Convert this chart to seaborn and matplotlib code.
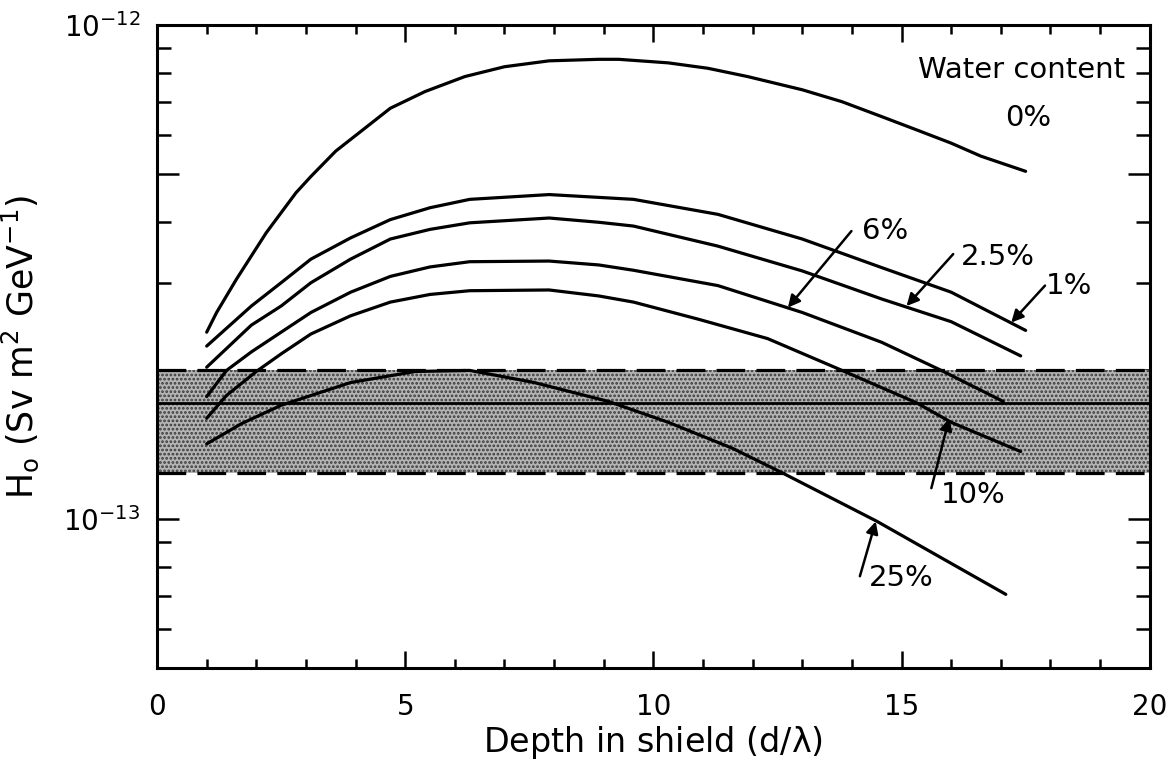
import numpy as np
import pandas as pd
import matplotlib
matplotlib.use('Agg')
import matplotlib.pyplot as plt
from matplotlib.ticker import FixedLocator, NullFormatter
import seaborn as sns

sns.set_theme(style="ticks")
plt.rcParams['font.family'] = ['DejaVu Sans']
plt.rcParams['mathtext.default'] = 'regular'
plt.rcParams['hatch.linewidth'] = 1.3
for k in ['text.color', 'axes.labelcolor', 'xtick.color', 'ytick.color']:
    plt.rcParams[k] = 'black'

# values, H0 in units of 1e-13 Sv m^2 GeV^-1
unit = 1e-13

x_0 = [1.0, 1.2, 1.6, 2.2, 2.8, 3.1, 3.6, 4.2, 4.7, 5.4, 6.2, 7.0, 7.9, 8.9, 9.3,
       10.3, 11.1, 11.9, 13.0, 13.8, 14.6, 15.3, 16.0, 16.6, 17.5]
h_0 = [2.39, 2.62, 3.06, 3.80, 4.58, 4.94, 5.56, 6.20, 6.79, 7.34, 7.87, 8.24, 8.47, 8.53, 8.53,
       8.39, 8.18, 7.87, 7.40, 7.00, 6.53, 6.14, 5.77, 5.43, 5.06]

x_1 = [1.0, 1.9, 2.5, 3.1, 3.9, 4.7, 5.5, 6.3, 7.9, 9.6, 11.3, 13.0, 14.6, 16.0, 17.5]
h_1 = [2.24, 2.70, 3.01, 3.36, 3.71, 4.04, 4.27, 4.44, 4.54, 4.44, 4.14, 3.69, 3.23, 2.88, 2.41]

x_25 = [1.0, 1.9, 2.5, 3.1, 3.9, 4.7, 5.5, 6.3, 7.9, 8.9, 9.6, 11.3, 13.0, 14.6, 16.0, 17.4]
h_25 = [2.03, 2.47, 2.70, 3.01, 3.36, 3.69, 3.86, 3.98, 4.07, 3.99, 3.92, 3.57, 3.18, 2.79, 2.51, 2.14]

x_6 = [1.0, 1.4, 1.9, 2.5, 3.1, 3.9, 4.7, 5.5, 6.3, 7.9, 8.9, 9.6, 11.3, 13.0, 14.6, 15.8, 17.05]
h_6 = [1.77, 2.00, 2.18, 2.39, 2.62, 2.88, 3.10, 3.24, 3.32, 3.33, 3.27, 3.19, 2.97, 2.62, 2.28, 2.00, 1.73]

x_10 = [1.0, 1.4, 2.0, 2.5, 3.1, 3.9, 4.7, 5.5, 6.3, 7.9, 8.9, 9.6, 10.9, 12.3, 13.8, 15.3, 16.0, 17.4]
h_10 = [1.60, 1.78, 1.99, 2.16, 2.37, 2.58, 2.75, 2.85, 2.90, 2.91, 2.83, 2.75, 2.54, 2.32, 2.00, 1.72, 1.57, 1.37]

x_250 = [1.0, 1.7, 2.5, 3.9, 5.2, 6.3, 7.6, 9.1, 10.3, 11.6, 12.6, 14.5, 17.1]
h_250 = [1.42, 1.56, 1.70, 1.89, 1.99, 2.00, 1.89, 1.73, 1.57, 1.39, 1.24, 0.99, 0.704]

water = ['0%', '1%', '2.5%', '6%', '10%', '25%']
curves_x = [x_0, x_1, x_25, x_6, x_10, x_250]
curves_h = [h_0, h_1, h_25, h_6, h_10, h_250]

# measured band: mean value and its range
band_lo, band_mid, band_hi = 1.24, 1.72, 2.0

# curve labels: text position and arrow tail -> tip (data coords)
lab_text = ['6%', '2.5%', '1%', '10%', '25%']
lab_pos = [(14.2, 3.83), (16.2, 3.40), (17.9, 2.96), (15.8, 1.12), (14.35, 0.76)]
arr_tail = [(13.99, 3.83), (16.04, 3.44), (17.89, 2.97), (15.60, 1.155), (14.16, 0.766)]
arr_tip = [(12.71, 2.68), (15.10, 2.70), (17.21, 2.50), (15.96, 1.60), (14.48, 0.989)]

frames = []
for w, xs, hs in zip(water, curves_x, curves_h):
    frames.append(pd.DataFrame({'depth': xs, 'H0': np.array(hs) * unit, 'water': w}))
df = pd.concat(frames, ignore_index=True)

fig = plt.figure(figsize=(11.72, 7.64), dpi=100)
ax = fig.add_axes([0.134, 0.126, 0.847, 0.841])

# shaded band
ax.axhspan(band_lo * unit, band_hi * unit, facecolor='#b4b4b4', edgecolor='#3a3a3a',
           hatch='....', lw=0, zorder=1)
ax.axhline(band_hi * unit, color='black', ls=(0, (9, 3.5)), lw=2.3, zorder=2)
ax.axhline(band_lo * unit, color='black', ls=(0, (9, 3.5)), lw=2.3, zorder=2)
ax.axhline(band_mid * unit, color='black', lw=2.0, zorder=2)

sns.lineplot(data=df, x='depth', y='H0', hue='water', palette=['black'] * len(water),
             estimator=None, sort=False, legend=False, lw=2.3, ax=ax, zorder=3)

ax.set_yscale('log')
ax.set_xlim(0, 20)
ax.set_ylim(5e-14, 1e-12)

# ticks
ax.xaxis.set_major_locator(FixedLocator([0, 5, 10, 15, 20]))
ax.xaxis.set_minor_locator(FixedLocator(list(range(0, 21))))
ax.set_xticklabels(['0', '5', '10', '15', '20'])
ax.yaxis.set_major_locator(FixedLocator([1e-13, 5e-13, 1e-12]))
ax.set_yticklabels([r'$10^{-13}$', '', r'$10^{-12}$'])
ax.yaxis.set_minor_locator(FixedLocator([6e-14, 7e-14, 8e-14, 9e-14, 2e-13, 3e-13, 4e-13,
                                         6e-13, 7e-13, 8e-13, 9e-13]))
ax.yaxis.set_minor_formatter(NullFormatter())
ax.tick_params(axis='both', which='both', direction='in', top=True, right=True,
               color='black', width=1.8)
ax.tick_params(axis='x', which='major', length=12, labelsize=20, pad=18)
ax.tick_params(axis='x', which='minor', length=6.5)
ax.tick_params(axis='y', which='major', length=16, labelsize=20, pad=12)
ax.tick_params(axis='y', which='minor', length=10)
for s in ax.spines.values():
    s.set_linewidth(2.2)
    s.set_color('black')

ax.set_xlabel(r'Depth in shield (d/$\lambda$)', fontsize=24, labelpad=2)
ax.set_ylabel(r'H$_\mathrm{o}$ (Sv m$^2$ GeV$^{-1}$)', fontsize=25, labelpad=16)

ax.text(15.33, 8.11e-13, 'Water content', fontsize=21, ha='left', va='center')
ax.text(17.08, 6.49e-13, '0%', fontsize=21, ha='left', va='center')

for t, p, a, b in zip(lab_text, lab_pos, arr_tail, arr_tip):
    ax.text(p[0], p[1] * unit, t, fontsize=21, ha='left', va='center')
    ax.annotate('', xy=(b[0], b[1] * unit), xytext=(a[0], a[1] * unit),
                arrowprops=dict(arrowstyle='-|>', color='black', lw=1.8,
                                mutation_scale=18, shrinkA=0, shrinkB=0))

fig.savefig('out.png', dpi=100, facecolor='white')
